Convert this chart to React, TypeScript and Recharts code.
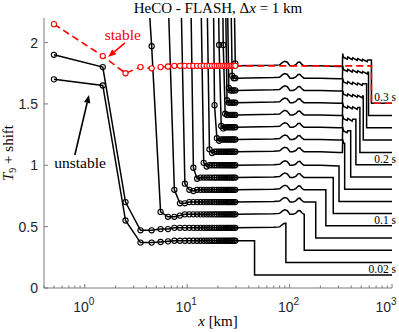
import React from 'react';
import { LineChart, Line, XAxis, YAxis, ReferenceDot, ReferenceLine } from 'recharts';

// ---------- data ----------
const CELLS = [0.5, 1.5, 2.5, 3.5, 4.5, 5.5, 6.5, 7.5, 8.5, 9.5, 10.5, 11.5, 12.5, 13.5, 14.5,
  15.5, 16.5, 17.5, 18.5, 19.5, 20.5, 21.5, 22.5, 23.5, 24.5, 25.5, 26.5, 27.5, 28.5, 29.5];

// near-field points of each snapshot (0.02 s ... 0.30 s), T9 + shift
const HEADS: number[][][] = [
  [[0.5, 1.70], [1.5, 1.65], [2.5, 0.55], [3.5, 0.37], [4.5, 0.37], [5.5, 0.375], [6.5, 0.38]],
  [[0.5, 1.90], [1.5, 1.80], [2.5, 0.70], [3.5, 0.47], [4.5, 0.47], [5.5, 0.48], [6.5, 0.48]],
  [[3.5, 3.4], [4.5, 1.97], [5.5, 0.62], [6.5, 0.58], [7.5, 0.58], [8.5, 0.59]],
  [[5.5, 3.4], [6.5, 2.4], [7.5, 0.80], [8.5, 0.69], [9.5, 0.69]],
  [[7.5, 3.4], [8.5, 2.8], [9.5, 0.85], [10.5, 0.80], [11.5, 0.79]],
  [[9.5, 3.4], [10.5, 3.2], [11.5, 0.98], [12.5, 0.89]],
  [[12.5, 3.4], [13.5, 2.6], [14.5, 1.02], [15.5, 0.99]],
  [[14.5, 3.4], [15.5, 2.6], [16.5, 1.13], [17.5, 1.10]],
  [[17.5, 3.4], [18.5, 1.49], [19.5, 1.22], [20.5, 1.20]],
  [[19.5, 3.4], [20.5, 1.98], [21.5, 1.32], [22.5, 1.30]],
  [[21.5, 3.4], [22.5, 1.98], [23.5, 1.42], [24.5, 1.41]],
  [[22.5, 3.4], [23.5, 2.6], [24.5, 1.53], [25.5, 1.51]],
  [[23.5, 3.4], [24.5, 2.6], [25.5, 1.63], [26.5, 1.61]],
  [[25.5, 3.4], [26.5, 2.6], [27.5, 1.73], [28.5, 1.71]],
  [[27.5, 3.4], [28.5, 2.6], [29.5, 1.83]],
];
const PLATEAUS = [0.385, 0.49, 0.60, 0.70, 0.80, 0.90, 1.0, 1.11, 1.21, 1.31, 1.41, 1.51, 1.61, 1.71, 1.81];
const SHOCKS = [45.5, 92, 139, 180, 226, 267, 304, 345, 395, 444, 486, 524, 565, 590, 630];
const BASES = [0.105, 0.207, 0.307, 0.407, 0.507, 0.607, 0.705, 0.805, 0.905, 1.005, 1.105, 1.205, 1.305, 1.405, 1.505];

// far-field profile (offset above the plateau) with the two bumps
const FAR_X = [30, 70, 80, 86, 90, 95, 101, 108, 115, 121, 126, 131, 138, 200, 300, 328];
const FAR_OFF = [0, 0.005, 0.008, 0.03, 0.037, 0.03, 0.0, 0.0, 0.01, 0.03, 0.032, 0.015, 0.0, 0.0, -0.005, -0.005];
// saw-tooth region beyond ~330 km
const SAW_X = [330, 336, 365, 370, 408, 414, 457, 463, 510, 517, 572, 579, 630];
const SAW_OFF = [0.10, 0.07, 0.055, 0.072, 0.05, 0.066, 0.045, 0.06, 0.04, 0.054, 0.035, 0.048, 0.035];

// stable run (red, 0.30 s)
const STABLE_HEAD = [[0.5, 2.15], [1.5, 1.89], [2.5, 1.75], [3.5, 1.80], [4.5, 1.79], [5.5, 1.80], [6.5, 1.805], [7.5, 1.81]];
const STABLE_PLATEAU = 1.81;
const STABLE_SHOCK = 630;
const STABLE_BASE = 1.505;

const TIME_LABELS = [{ i: 0, text: '0.02 s' }, { i: 4, text: '0.1 s' }, { i: 9, text: '0.2 s' }, { i: 14, text: '0.3 s' }];

const X_MAJOR = [1, 10, 100, 1000];
const X_MINOR = [0.4, 0.5, 0.6, 0.7, 0.8, 0.9, 2, 3, 4, 5, 6, 7, 8, 9, 20, 30, 40, 50, 60, 70, 80, 90,
  200, 300, 400, 500, 600, 700, 800, 900];
const X_TICKS = [...X_MINOR, ...X_MAJOR].sort((a, b) => a - b);
const Y_TICKS = [0, 0.5, 1, 1.5, 2];

// ---------- build series ----------
type P = { x: number; y: number };
function buildCurve(head: number[][], plateau: number, shock: number, base: number, far: boolean): P[] {
  const pts: P[] = head.map(([x, y]) => ({ x, y }));
  const lastX = head[head.length - 1][0];
  CELLS.filter((c) => c > lastX).forEach((c) => pts.push({ x: c, y: plateau }));
  let last = plateau;
  if (far) {
    FAR_X.forEach((x, i) => {
      if (x < shock) { last = plateau + FAR_OFF[i]; pts.push({ x, y: last }); }
    });
    SAW_X.forEach((x, i) => {
      if (x < shock) { last = plateau + SAW_OFF[i]; pts.push({ x, y: last }); }
    });
  } else {
    pts.push({ x: 30, y: plateau });
  }
  pts.push({ x: shock, y: last });
  pts.push({ x: shock, y: base });
  pts.push({ x: 1000, y: base });
  return pts;
}

const BLACK = HEADS.map((h, i) => buildCurve(h, PLATEAUS[i], SHOCKS[i], BASES[i], true));
const STABLE = buildCurve(STABLE_HEAD, STABLE_PLATEAU, STABLE_SHOCK, STABLE_BASE, false);

// ---------- styling ----------
const AXIS = '#7a7a7a';
const TXT = '#262626';
const SERIF = "'Liberation Serif', 'Times New Roman', serif";
const SANS = "'Liberation Sans', Arial, Helvetica, sans-serif";

const makeDot = (color: string, fill: string) => (props: any) => {
  const { cx, cy, payload, index } = props;
  if (!payload || payload.x > 29.6 || cx == null || cy == null) return <g key={`e${index}`} />;
  return <circle key={`d${index}`} cx={cx} cy={cy} r={2.6} fill={fill} stroke={color} strokeWidth={1.1} />;
};
const blackDot = makeDot('#000', 'none');
const redDot = makeDot('#ff0000', '#fff');

const BottomTick = (props: any) => {
  const { x, y, payload } = props;
  const v = payload.value;
  const major = X_MAJOR.includes(v);
  const exp = Math.round(Math.log10(v));
  const lx = v === 1000 ? x - 6 : x - 1;
  return (
    <g>
      <line x1={x} x2={x} y1={y} y2={y - (major ? 4 : 2.5)} stroke={AXIS} strokeWidth={1} />
      {major && (
        <text x={lx} y={y + 24} textAnchor="middle" fontFamily={SANS} fontSize={14} fill={TXT}>
          <tspan>10</tspan>
          <tspan dy={-7} fontSize={10}>{exp}</tspan>
        </text>
      )}
    </g>
  );
};
const TopTick = (props: any) => {
  const { x, y, payload } = props;
  const major = X_MAJOR.includes(payload.value);
  return <line x1={x} x2={x} y1={y} y2={y + (major ? 4 : 2.5)} stroke={AXIS} strokeWidth={1} />;
};
const LeftTick = (props: any) => {
  const { x, y, payload } = props;
  return (
    <g>
      <line x1={x} x2={x + 4} y1={y} y2={y} stroke={AXIS} strokeWidth={1} />
      <text x={x - 6} y={y + 5} textAnchor="end" fontFamily={SANS} fontSize={14} fill={TXT}>
        {String(payload.value)}
      </text>
    </g>
  );
};
const RightTick = (props: any) => {
  const { x, y } = props;
  return <line x1={x} x2={x - 4} y1={y} y2={y} stroke={AXIS} strokeWidth={1} />;
};

const arrowShape = (color: string) => (p: any) => {
  const { x1, y1, x2, y2 } = p;
  const ang = Math.atan2(y2 - y1, x2 - x1);
  const L = 8, W = 3.2;
  const bx = x2 - L * Math.cos(ang), by = y2 - L * Math.sin(ang);
  const px = -Math.sin(ang) * W, py = Math.cos(ang) * W;
  return (
    <g>
      <line x1={x1} y1={y1} x2={bx} y2={by} stroke={color} strokeWidth={1.6} />
      <polygon points={`${x2},${y2} ${bx + px},${by + py} ${bx - px},${by - py}`} fill={color} />
    </g>
  );
};

const textAt = (text: React.ReactNode, opts: { dx?: number; dy?: number; anchor?: string; size?: number; color?: string; family?: string }) =>
  (p: any) => {
    const vb = p.viewBox || p;
    return (
      <text x={vb.x + (opts.dx || 0)} y={vb.y + (opts.dy || 0)} textAnchor={opts.anchor || 'middle'}
        fontFamily={opts.family || SERIF} fontSize={opts.size || 15} fill={opts.color || '#000'}>
        {text}
      </text>
    );
  };

const xLabel = (p: any) => {
  const vb = p.viewBox;
  return (
    <text x={vb.x + vb.width / 2} y={326} textAnchor="middle" fontFamily={SERIF} fontSize={15} fill="#000">
      <tspan fontStyle="italic">x</tspan>
      <tspan> [km]</tspan>
    </text>
  );
};
const yLabel = () => (
  <text x={13} y={153} transform="rotate(-90 13 153)" textAnchor="middle" fontFamily={SERIF} fontSize={15} fill="#000">
    <tspan fontStyle="italic">T</tspan>
    <tspan fontSize={10} dy={3}>9</tspan>
    <tspan dy={-3}> + shift</tspan>
  </text>
);

export default function App() {
  return (
    <div style={{ position: 'absolute', left: 0, top: 0, width: 399, height: 332, background: '#fff' }}>
      <LineChart width={399} height={332} margin={{ top: 18, right: 7, bottom: 0, left: 0 }}>
        <XAxis xAxisId={0} dataKey="x" type="number" scale="log" domain={[0.4, 1000]} allowDataOverflow
          ticks={X_TICKS} interval={0} tick={<BottomTick />} tickLine={false} tickSize={0} tickMargin={0}
          height={44} axisLine={{ stroke: AXIS }} label={xLabel} />
        <XAxis xAxisId="top" orientation="top" dataKey="x" type="number" scale="log" domain={[0.4, 1000]}
          allowDataOverflow ticks={X_TICKS} interval={0} tick={<TopTick />} tickLine={false} tickSize={0}
          tickMargin={0} height={0} axisLine={{ stroke: AXIS }} />
        <YAxis yAxisId={0} type="number" domain={[0, 2.2]} allowDataOverflow ticks={Y_TICKS} interval={0}
          tick={<LeftTick />} tickLine={false} tickSize={0} tickMargin={0} width={44}
          axisLine={{ stroke: AXIS }} label={yLabel} />
        <YAxis yAxisId="right" orientation="right" type="number" domain={[0, 2.2]} allowDataOverflow
          ticks={Y_TICKS} interval={0} tick={<RightTick />} tickLine={false} tickSize={0} tickMargin={0}
          width={0} axisLine={{ stroke: AXIS }} />

        {BLACK.map((d, i) => (
          <Line key={`b${i}`} data={d} dataKey="y" type="linear" stroke="#000" strokeWidth={1.5}
            dot={blackDot} activeDot={false} isAnimationActive={false} legendType="none" />
        ))}
        <Line key="stable" data={STABLE} dataKey="y" type="linear" stroke="#ff0000" strokeWidth={1.6}
          strokeDasharray="7 4" dot={redDot} activeDot={false} isAnimationActive={false} legendType="none" />

        {TIME_LABELS.map((t) => (
          <ReferenceDot key={t.text} x={1000} y={BASES[t.i]} r={0} fill="none" stroke="none"
            label={textAt(t.text, { dx: 4, dy: -2, anchor: 'end', size: 11.5 })} />
        ))}
        <ReferenceDot x={20} y={2.2} r={0} fill="none" stroke="none"
          label={textAt(<>
            <tspan>HeCO - FLASH, Δ</tspan><tspan fontStyle="italic">x</tspan><tspan> = 1 km</tspan>
          </>, { dy: -5, size: 15 })} />
        <ReferenceDot x={2.35} y={2.02} r={0} fill="none" stroke="none"
          label={textAt('stable', { size: 15.5, color: '#ff0000' })} />
        <ReferenceDot x={0.9} y={0.978} r={0} fill="none" stroke="none"
          label={textAt('unstable', { size: 15.5 })} />
        <ReferenceLine segment={[{ x: 2.47, y: 1.997 }, { x: 1.69, y: 1.883 }]} shape={arrowShape('#ff0000')} />
        <ReferenceLine segment={[{ x: 0.8, y: 1.084 }, { x: 1.1, y: 1.573 }]} shape={arrowShape('#000')} />
      </LineChart>
    </div>
  );
}
